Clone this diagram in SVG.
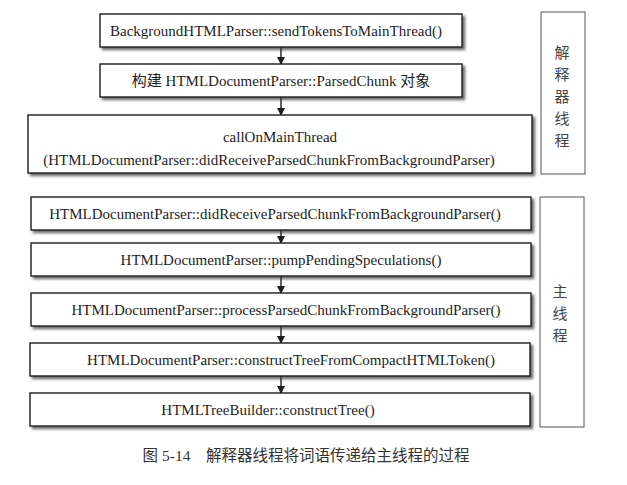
<svg xmlns="http://www.w3.org/2000/svg" width="627" height="485" viewBox="0 0 627 485">
<defs>
<style>
.box{fill:#fff;stroke:#1e1e1e;stroke-width:1.4;filter:url(#sh)}
.side{fill:#fff;stroke:#555;stroke-width:1}
.t{font-family:"Liberation Serif","Times New Roman",serif;font-size:15px;fill:#1e1e1e;text-anchor:middle;dominant-baseline:central}
.cn{font-family:"Liberation Serif","Noto Sans CJK SC",serif;font-size:15px;fill:#1e1e1e;text-anchor:middle;dominant-baseline:central}
.sc{font-family:"Noto Sans CJK SC",sans-serif;font-size:15px;fill:#444;text-anchor:middle;dominant-baseline:central}
.cap{font-family:"Liberation Serif","Noto Sans CJK SC",serif;font-size:15.5px;fill:#333;text-anchor:middle;dominant-baseline:central}
.ln{stroke:#1e1e1e;stroke-width:1.4;fill:none;marker-end:url(#ah)}
</style>
<filter id="sh" x="-5%" y="-20%" width="115%" height="160%">
<feDropShadow dx="2.5" dy="2.5" stdDeviation="1.2" flood-color="#333" flood-opacity="0.7"/>
</filter>
<marker id="ah" markerWidth="8" markerHeight="8" refX="7" refY="4" orient="auto" markerUnits="userSpaceOnUse">
<path d="M0,0 L8,4 L0,8 Z" fill="#1e1e1e"/>
</marker>
</defs>

<g id="thread-parser">
<rect class="side" x="541" y="12" width="44" height="162"/>
<text class="sc" x="562" y="51">解</text>
<text class="sc" x="562" y="73">释</text>
<text class="sc" x="562" y="95">器</text>
<text class="sc" x="562" y="117">线</text>
<text class="sc" x="562" y="139">程</text>
</g>
<g id="thread-main">
<rect class="side" x="540" y="197" width="44" height="230"/>
<text class="sc" x="560" y="290">主</text>
<text class="sc" x="560" y="312">线</text>
<text class="sc" x="560" y="334">程</text>
</g>

<g id="connectors">
<line class="ln" x1="281" y1="47" x2="281" y2="64"/>
<line class="ln" x1="281" y1="97" x2="281" y2="115"/>
<line class="ln" x1="281" y1="230" x2="281" y2="243"/>
<line class="ln" x1="281" y1="276" x2="281" y2="293"/>
<line class="ln" x1="281" y1="326" x2="281" y2="343"/>
<line class="ln" x1="281" y1="376" x2="281" y2="393"/>
</g>

<g id="n1">
<rect class="box" x="100" y="14" width="362" height="33"/>
<text class="t" x="276" y="31">BackgroundHTMLParser::sendTokensToMainThread()</text>
</g>
<g id="n2">
<rect class="box" x="100" y="64" width="362" height="33"/>
<text class="cn" x="281" y="81">构建 HTMLDocumentParser::ParsedChunk 对象</text>
</g>
<g id="n3">
<rect class="box" x="28" y="115" width="504" height="58"/>
<text class="t" x="280" y="137">callOnMainThread</text>
<text class="t" x="269" y="160">(HTMLDocumentParser::didReceiveParsedChunkFromBackgroundParser)</text>
</g>
<g id="n4">
<rect class="box" x="31" y="197" width="500" height="33"/>
<text class="t" x="275" y="214">HTMLDocumentParser::didReceiveParsedChunkFromBackgroundParser()</text>
</g>
<g id="n5">
<rect class="box" x="31" y="243" width="500" height="33"/>
<text class="t" x="281" y="260">HTMLDocumentParser::pumpPendingSpeculations()</text>
</g>
<g id="n6">
<rect class="box" x="31" y="293" width="500" height="33"/>
<text class="t" x="286" y="310">HTMLDocumentParser::processParsedChunkFromBackgroundParser()</text>
</g>
<g id="n7">
<rect class="box" x="30" y="343" width="500" height="33"/>
<text class="t" x="291" y="360">HTMLDocumentParser::constructTreeFromCompactHTMLToken()</text>
</g>
<g id="n8">
<rect class="box" x="30" y="393" width="500" height="33"/>
<text class="t" x="268" y="410">HTMLTreeBuilder::constructTree()</text>
</g>

<text class="cap" x="306" y="455">图 5-14　解释器线程将词语传递给主线程的过程</text>
</svg>
